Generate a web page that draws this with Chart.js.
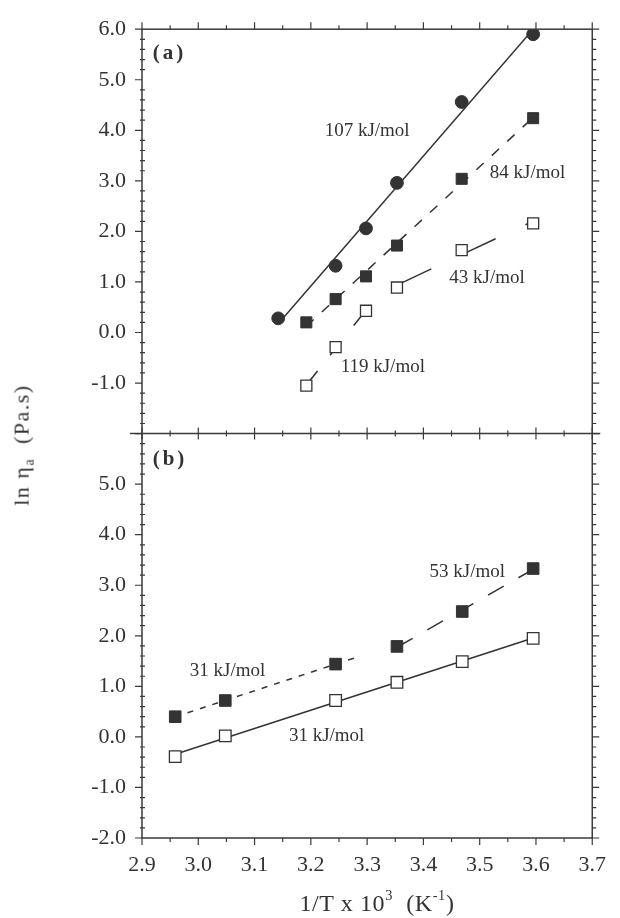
<!DOCTYPE html>
<html>
<head>
<meta charset="utf-8">
<script src="https://cdn.jsdelivr.net/npm/chart.js@4.4.1/dist/chart.umd.min.js"></script>
<style>
  html, body { margin: 0; padding: 0; background: #ffffff; }
  #wrap { position: relative; width: 620px; height: 918px; overflow: hidden; }
  #c { position: absolute; left: 0; top: 0; }
  .ytitle { position: absolute; left: 23px; top: 445px; transform: translate(-50%, -50%) rotate(-90deg);
            font: 22px "Liberation Serif", "Times New Roman", serif; color: #333; white-space: nowrap; letter-spacing: 1.5px; }
  .ytitle sub { font-size: 62%; vertical-align: -0.35em; }
  .xtitle { position: absolute; left: 377px; top: 902px; transform: translate(-50%, -50%);
            font: 24px "Liberation Serif", "Times New Roman", serif; color: #333; white-space: nowrap; letter-spacing: 0.6px; }
  .xtitle sup { font-size: 60%; vertical-align: 0.7em; }
</style>
</head>
<body>
<div id="wrap">
  <canvas id="c" width="620" height="918"></canvas>
  <div class="ytitle">ln η<sub>a</sub>&nbsp;&nbsp;(Pa.s)</div>
  <div class="xtitle">1/T x 10<sup>3</sup>&nbsp;&nbsp;(K<sup>-1</sup>)</div>
</div>
<script>
// ---------- tick values ----------
const xTickValues = [2.9, 3.0, 3.1, 3.2, 3.3, 3.4, 3.5, 3.6, 3.7];
const yTickValues = [-2, -1, 0, 1, 2, 3, 4, 5, 6];

// ---------- panel (a) ----------
const aCircleX = [3.142, 3.244, 3.298, 3.353, 3.468, 3.595];
const aCircleY = [0.28, 1.32, 2.06, 2.96, 4.56, 5.90];
const aSquareX = [3.192, 3.244, 3.298, 3.353, 3.468, 3.595];
const aFilledY = [0.20, 0.66, 1.11, 1.72, 3.04, 4.24];
const aOpenY   = [-1.05, -0.29, 0.43, 0.89, 1.63, 2.16];

// ---------- panel (b) ----------
const bSquareX = [2.959, 3.048, 3.244, 3.353, 3.469, 3.595];
const bFilledY = [0.40, 0.72, 1.44, 1.79, 2.48, 3.33];
const bOpenY   = [-0.39, 0.02, 0.72, 1.08, 1.49, 1.95];

// ---------- activation-energy labels ----------
const noteTexts = ['107 kJ/mol', '84 kJ/mol', '43 kJ/mol', '119 kJ/mol', '53 kJ/mol', '31 kJ/mol', '31 kJ/mol'];

const INK = '#333333';
const FONT = '"Liberation Serif", "Times New Roman", serif';

function pts(xs, ys) { return xs.map((x, i) => ({ x: x, y: ys[i] })); }

// least-squares fit over a subset of points
function fitLine(xs, ys, from, to, xEnd) {
  const X = xs.slice(from, to + 1), Y = ys.slice(from, to + 1);
  const n = X.length;
  const mx = X.reduce((a, b) => a + b, 0) / n, my = Y.reduce((a, b) => a + b, 0) / n;
  let sxy = 0, sxx = 0;
  for (let i = 0; i < n; i++) { sxy += (X[i] - mx) * (Y[i] - my); sxx += (X[i] - mx) * (X[i] - mx); }
  const m = sxy / sxx, b = my - m * mx;
  const x0 = X[0], x1 = (xEnd !== undefined) ? xEnd : X[n - 1];
  return [{ x: x0, y: m * x0 + b }, { x: x1, y: m * x1 + b }];
}

const fitSpecs = [
  { axis: 'yA', xs: aCircleX, ys: aCircleY, from: 0, to: 5, dash: [] },
  { axis: 'yA', xs: aSquareX, ys: aFilledY, from: 0, to: 5, dash: [10, 11] },
  { axis: 'yA', xs: aSquareX, ys: aOpenY,   from: 0, to: 2, dash: [18, 20] },
  { axis: 'yA', xs: aSquareX, ys: aOpenY,   from: 3, to: 5, dash: [38, 33] },
  { axis: 'yB', xs: bSquareX, ys: bOpenY,   from: 0, to: 5, dash: [] },
  { axis: 'yB', xs: bSquareX, ys: bFilledY, from: 0, to: 2, dash: [6, 7], xEnd: 3.28 },
  { axis: 'yB', xs: bSquareX, ys: bFilledY, from: 3, to: 5, dash: [18, 17] }
];

// label anchor (left, middle) in data units
const noteSpots = [
  { axis: 'yA', x: 3.2245, y: 3.98 },
  { axis: 'yA', x: 3.518,  y: 3.15 },
  { axis: 'yA', x: 3.446,  y: 1.085 },
  { axis: 'yA', x: 3.253,  y: -0.69 },
  { axis: 'yB', x: 3.411,  y: 3.264 },
  { axis: 'yB', x: 2.985,  y: 1.31 },
  { axis: 'yB', x: 3.161,  y: 0.02 }
];
const panelTags = [
  { axis: 'yA', text: '(a)', x: 2.919, y: 5.52 },
  { axis: 'yB', text: '(b)', x: 2.919, y: 5.49 }
];

const datasets = [];
// markers (on top)
datasets.push({ data: pts(aCircleX, aCircleY), yAxisID: 'yA', pointStyle: 'circle', pointRadius: 6.4,
  backgroundColor: INK, borderColor: INK, borderWidth: 1, showLine: false, order: 0 });
datasets.push({ data: pts(aSquareX, aFilledY), yAxisID: 'yA', pointStyle: 'rect', pointRadius: 7.8,
  backgroundColor: INK, borderColor: INK, borderWidth: 1, showLine: false, order: 0 });
datasets.push({ data: pts(aSquareX, aOpenY), yAxisID: 'yA', pointStyle: 'rect', pointRadius: 7.8,
  backgroundColor: '#ffffff', borderColor: INK, borderWidth: 1.3, showLine: false, order: 0 });
datasets.push({ data: pts(bSquareX, bFilledY), yAxisID: 'yB', pointStyle: 'rect', pointRadius: 8.2,
  backgroundColor: INK, borderColor: INK, borderWidth: 1, showLine: false, order: 0 });
datasets.push({ data: pts(bSquareX, bOpenY), yAxisID: 'yB', pointStyle: 'rect', pointRadius: 8.2,
  backgroundColor: '#ffffff', borderColor: INK, borderWidth: 1.3, showLine: false, order: 0 });
// fitted lines (below markers)
fitSpecs.forEach(f => {
  datasets.push({ data: fitLine(f.xs, f.ys, f.from, f.to, f.xEnd), yAxisID: f.axis, showLine: true,
    pointRadius: 0, borderColor: INK, borderWidth: 1.5, borderDash: f.dash, fill: false, order: 1 });
});

// frame, ticks and text labels
const framePlugin = {
  id: 'frame',
  afterDatasetsDraw(chart) {
    const ctx = chart.ctx, xs = chart.scales.x, ya = chart.scales.yA, yb = chart.scales.yB;
    const L = chart.chartArea.left, R = chart.chartArea.right;
    const T = ya.top, M = ya.bottom, B = yb.bottom;
    ctx.save();
    ctx.strokeStyle = '#3a3a3a';
    ctx.lineWidth = 1.5;
    ctx.setLineDash([]);
    ctx.strokeRect(L, T, R - L, B - T);
    ctx.beginPath(); ctx.moveTo(L - 12, M); ctx.lineTo(R + 8, M); ctx.stroke();
    ctx.lineWidth = 1.2;
    ctx.beginPath();
    // x ticks every 0.05
    for (let k = 0; k <= 16; k++) {
      const v = 2.9 + k * 0.05;
      const px = xs.getPixelForValue(v);
      const major = (k % 2 === 0);
      const t = major ? 7 : 4;
      ctx.moveTo(px, T); ctx.lineTo(px, T - t);
      ctx.moveTo(px, M - t + 1); ctx.lineTo(px, M + t - 1);
      ctx.moveTo(px, B); ctx.lineTo(px, B + t);
    }
    // y ticks every 0.2 in both panels
    [ya, yb].forEach(s => {
      for (let k = 0; k <= 40; k++) {
        const v = -2 + k * 0.2;
        const py = s.getPixelForValue(v);
        const major = (k % 5 === 0);
        if (major) {
          ctx.moveTo(L - 7, py); ctx.lineTo(L, py);
          ctx.moveTo(R, py); ctx.lineTo(R + 7, py);
        } else {
          ctx.moveTo(L - 2, py); ctx.lineTo(L + 3, py);
          ctx.moveTo(R, py); ctx.lineTo(R + 4, py);
        }
      }
    });
    ctx.stroke();

    ctx.fillStyle = INK;
    ctx.textBaseline = 'middle';
    ctx.textAlign = 'left';
    ctx.font = '19px ' + FONT;
    noteTexts.forEach((txt, i) => {
      const s = chart.scales[noteSpots[i].axis];
      ctx.fillText(txt, xs.getPixelForValue(noteSpots[i].x), s.getPixelForValue(noteSpots[i].y));
    });
    ctx.font = 'bold 21px ' + FONT;
    try { ctx.letterSpacing = '3px'; } catch (e) {}
    panelTags.forEach(p => {
      const s = chart.scales[p.axis];
      ctx.fillText(p.text, xs.getPixelForValue(p.x), s.getPixelForValue(p.y));
    });
    ctx.restore();
  }
};

const tickFont = { family: FONT, size: 22 };
function yScale(weight, hideValue) {
  return {
    type: 'linear', position: 'left', stack: 'panels', stackWeight: 1, weight: weight,
    min: -2, max: 6,
    afterBuildTicks: s => { s.ticks = yTickValues.map(v => ({ value: v })); },
    afterFit: s => { s.width = 142; },
    ticks: { color: INK, font: tickFont, padding: 16, autoSkip: false,
      callback: v => (Math.abs(v - hideValue) < 1e-9 ? '' : v.toFixed(1)) },
    grid: { display: false, drawTicks: false },
    border: { display: false }
  };
}

new Chart(document.getElementById('c'), {
  type: 'scatter',
  data: { datasets: datasets },
  options: {
    responsive: false, animation: false, devicePixelRatio: 1,
    layout: { padding: { left: 0, right: 16, top: 24, bottom: 0 } },
    plugins: { legend: { display: false }, tooltip: { enabled: false } },
    scales: {
      x: {
        type: 'linear', min: 2.9, max: 3.7,
        afterBuildTicks: s => { s.ticks = xTickValues.map(v => ({ value: v })); },
        afterFit: s => { s.height = 80; },
        ticks: { color: INK, font: tickFont, padding: 14, maxRotation: 0, autoSkip: false, callback: v => v.toFixed(1) },
        grid: { display: false, drawTicks: false },
        border: { display: false }
      },
      yA: yScale(1, -2),
      yB: yScale(0, 6)
    }
  },
  plugins: [framePlugin]
});
</script>
</body>
</html>
